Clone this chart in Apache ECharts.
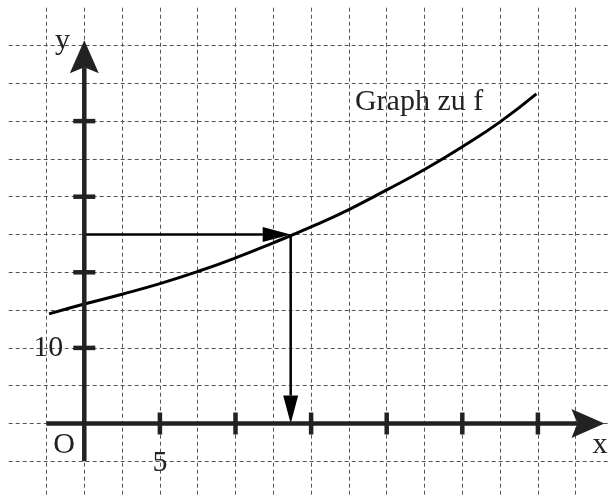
<!DOCTYPE html>
<html>
<head>
<meta charset="utf-8">
<script src="https://cdn.jsdelivr.net/npm/echarts@6/dist/echarts.min.js"></script>
<style>
  html, body { margin: 0; padding: 0; background: #fff; }
  #chart { width: 608px; height: 495px; }
</style>
</head>
<body>
<div id="chart"></div>
<script>
// Graph zu f
const curveX = [-2.33, 0, 2.5, 5, 7.5, 10, 12.5, 15, 17.5, 20, 22.5, 25, 27.5, 29.9];
const curveY = [14.5, 15.8, 17.1, 18.5, 20.1, 21.9, 23.9, 26.0, 28.3, 30.9, 33.6, 36.6, 39.9, 43.6];
// Striche auf den Achsen und beschriftete Werte
const xTicks = [5, 10, 15, 20, 25, 30];
const yTicks = [10, 20, 30, 40];
const xLabels = [5];
const yLabels = [10];
// Ablesen: zu y = 25 gehoert x = 13.65
const readY = 25;
const readX = 13.65;
// Laenge der gezeichneten Achsen
const xAxisRange = [-2.5, 34.4];
const yAxisRange = [-5, 50.7];

const FONT = "'Liberation Serif', 'Times New Roman', serif";
const INK = '#222';

function arrow(api, from, to, o) {
  const a = api.coord(from), b = api.coord(to);
  const dx = b[0] - a[0], dy = b[1] - a[1];
  const L = Math.sqrt(dx * dx + dy * dy);
  const ux = dx / L, uy = dy / L, nx = -uy, ny = ux;
  const bx = b[0] - ux * o.len, by = b[1] - uy * o.len;
  const mx = b[0] - ux * (o.len - o.notch), my = b[1] - uy * (o.len - o.notch);
  return {
    type: 'group',
    children: [
      { type: 'line', shape: { x1: a[0], y1: a[1], x2: mx, y2: my },
        style: { stroke: o.color, lineWidth: o.lw } },
      { type: 'polygon',
        shape: { points: [[b[0], b[1]], [bx + nx * o.hw, by + ny * o.hw], [mx, my], [bx - nx * o.hw, by - ny * o.hw]] },
        style: { fill: o.color } }
    ]
  };
}

function tickLine(api, horizontal) {
  const p = api.coord([api.value(0), api.value(1)]);
  const shape = horizontal
    ? { x1: p[0] - 11, y1: p[1], x2: p[0] + 11, y2: p[1] }
    : { x1: p[0], y1: p[1] - 11, x2: p[0], y2: p[1] + 11 };
  return { type: 'line', shape: shape, style: { stroke: INK, lineWidth: 4.5 } };
}

function label(x, y, text, align, vAlign) {
  return { type: 'text', x: x, y: y,
    style: { text: text, fill: INK, font: '30px ' + FONT, align: align, verticalAlign: vAlign } };
}

const chart = echarts.init(document.getElementById('chart'), null, { renderer: 'canvas' });

const axisArrows = [
  [xAxisRange[0], 0, xAxisRange[1], 0],
  [0, yAxisRange[0], 0, yAxisRange[1]]
];
const readArrows = [
  [0, readY, readX, readY],
  [readX, readY, readX, 0]
];
const texts = [
  { pos: [-1.44, 50.6], text: 'y', align: 'center' },
  { pos: [34.1, -2.84], text: 'x', align: 'center' },
  { pos: [-1.33, -2.84], text: 'O', align: 'center' },
  { pos: [17.9, 42.57], text: 'Graph zu f', align: 'left' }
];

const dashed = { color: '#555', width: 1, type: [4, 3] };

chart.setOption({
  animation: false,
  backgroundColor: '#fff',
  grid: { left: 8.7, right: -5.5, top: 7.7, bottom: -4.1, outerBoundsMode: 'none', containLabel: false },
  xAxis: {
    type: 'value', min: -5, max: 35, interval: 2.5,
    axisLine: { show: false },
    axisTick: { show: false },
    axisLabel: { show: false },
    splitLine: { show: true, showMinLine: false, showMaxLine: false, lineStyle: dashed }
  },
  yAxis: {
    type: 'value', min: -10, max: 55, interval: 5,
    axisLine: { show: false },
    axisTick: { show: false },
    axisLabel: { show: false },
    splitLine: { show: true, showMinLine: false, showMaxLine: false, lineStyle: dashed }
  },
  series: [
    {
      name: 'Graph zu f', type: 'line', z: 4,
      data: curveX.map((x, i) => [x, curveY[i]]),
      smooth: 0.5, symbol: 'none',
      lineStyle: { color: '#000', width: 3 }
    },
    {
      type: 'custom', z: 3, silent: true,
      data: readArrows,
      renderItem: (params, api) => arrow(api,
        [api.value(0), api.value(1)], [api.value(2), api.value(3)],
        { len: 28, hw: 7.5, notch: 0, lw: 2.5, color: '#000' })
    },
    {
      type: 'custom', z: 5, silent: true,
      data: axisArrows,
      renderItem: (params, api) => arrow(api,
        [api.value(0), api.value(1)], [api.value(2), api.value(3)],
        { len: 33, hw: 14.5, notch: 6, lw: 4.5, color: INK })
    },
    {
      type: 'custom', z: 5, silent: true,
      data: xTicks.map(v => [v, 0]),
      renderItem: (params, api) => tickLine(api, false)
    },
    {
      type: 'custom', z: 5, silent: true,
      data: yTicks.map(v => [0, v]),
      renderItem: (params, api) => tickLine(api, true)
    },
    {
      // Achsenbeschriftung x
      type: 'custom', z: 6, silent: true,
      data: xLabels.map(v => [v, 0]),
      renderItem: (params, api) => {
        const p = api.coord([api.value(0), api.value(1)]);
        return label(p[0], p[1] + 25, String(xLabels[params.dataIndex]), 'center', 'top');
      }
    },
    {
      // Achsenbeschriftung y
      type: 'custom', z: 6, silent: true,
      data: yLabels.map(v => [0, v]),
      renderItem: (params, api) => {
        const p = api.coord([api.value(0), api.value(1)]);
        return label(p[0] - 21, p[1], String(yLabels[params.dataIndex]), 'right', 'middle');
      }
    },
    {
      type: 'custom', z: 6, silent: true,
      data: texts.map(t => t.pos),
      renderItem: (params, api) => {
        const t = texts[params.dataIndex];
        const p = api.coord([api.value(0), api.value(1)]);
        return label(p[0], p[1], t.text, t.align, 'middle');
      }
    }
  ]
});
</script>
</body>
</html>
